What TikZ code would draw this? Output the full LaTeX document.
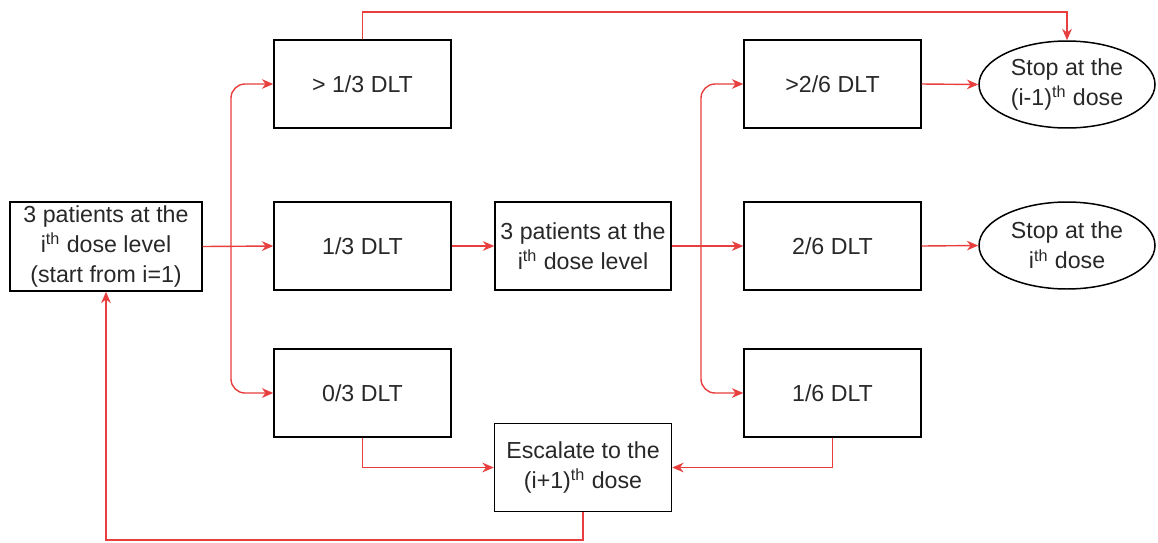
\documentclass[tikz,border=0pt]{standalone}
\usepackage{fontspec}
\setmainfont{Liberation Sans}
\usetikzlibrary{arrows.meta,shapes.geometric}
\definecolor{lred}{RGB}{232,62,62}
\definecolor{txt}{RGB}{40,40,40}
\begin{document}
\begin{tikzpicture}[x=0.02cm,y=-0.02cm,
  box/.style={draw=black,line width=0.85pt,rectangle,inner sep=0pt,minimum width=3.54cm,minimum height=1.76cm,align=center,text=txt,font=\fontsize{13.2}{17}\selectfont},
  oval/.style={draw=black,line width=0.85pt,ellipse,inner sep=0pt,minimum width=3.52cm,minimum height=1.74cm,align=center,text=txt,font=\fontsize{13.2}{17}\selectfont},
  arr/.style={draw=lred,line width=0.8pt,-{Stealth[length=6.5pt,width=5.5pt]}},
  ln/.style={draw=lred,line width=0.8pt}]
\useasboundingbox (0,0) rectangle (1158,542);
\node[box,minimum width=3.84cm,minimum height=1.78cm] (start) at (106,246.5) {3 patients at the\\i\textsuperscript{th} dose level\\(start from i=1)};
\node[box] (gt13) at (362.5,84) {> 1/3 DLT};
\node[box] (eq13) at (362.5,246) {1/3 DLT};
\node[box] (z3) at (362.5,393) {0/3 DLT};
\node[box,minimum width=3.52cm] (mid) at (583,246) {3 patients at the\\i\textsuperscript{th} dose level};
\node[box] (gt26) at (832.5,84) {>2/6 DLT};
\node[box] (eq26) at (832.5,246) {2/6 DLT};
\node[box] (o6) at (832.5,393) {1/6 DLT};
\node[box] (esc) at (583,467.5) {Escalate to the\\(i+1)\textsuperscript{th} dose};
\node[oval] (ell1) at (1067,84.5) {Stop at the\\(i-1)\textsuperscript{th} dose};
\node[oval] (ell2) at (1067,245.5) {Stop at the\\i\textsuperscript{th} dose};
\coordinate (b1) at (231,246);
\coordinate (b2) at (701,246);
\coordinate (top) at (362.5,12);
\coordinate (bot) at (583,540);
% left branching
\draw[arr] (start.east) -- (eq13.west);
\draw[arr,rounded corners=8] (b1) |- (gt13.west);
\draw[arr,rounded corners=8] (b1) |- (z3.west);
\draw[arr] (eq13.east) -- (mid.west);
% right branching
\draw[arr] (mid.east) -- (eq26.west);
\draw[arr,rounded corners=8] (b2) |- (gt26.west);
\draw[arr,rounded corners=8] (b2) |- (o6.west);
\draw[arr] (gt26.east) -- (ell1.west);
\draw[arr] (eq26.east) -- (ell2.west);
% top loop
\draw[arr] (gt13.north) -- (top) -| (ell1.north);
% bottom connectors
\draw[arr] (z3.south) |- (esc.west);
\draw[arr] (o6.south) |- (esc.east);
\draw[arr] (esc.south) -- (bot) -| (start.south);
\end{tikzpicture}
\end{document}
